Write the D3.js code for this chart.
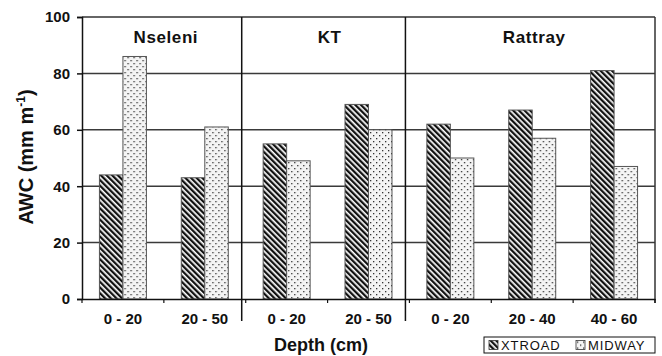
<!DOCTYPE html>
<html>
<head>
<meta charset="utf-8">
<script src="https://cdn.jsdelivr.net/npm/d3@7"></script>
<style>
  html, body { margin: 0; padding: 0; background: #fff; }
  svg { display: block; font-family: Arial, "Liberation Sans", Helvetica, sans-serif; }
</style>
</head>
<body>
<div id="chart"></div>
<script>
const sites = ["Nseleni", "KT", "Rattray"];
const siteDepths = [["0 - 20", "20 - 50"], ["0 - 20", "20 - 50"], ["0 - 20", "20 - 40", "40 - 60"]];
const series = ["XTROAD", "MIDWAY"];
const xtroad = [44, 43, 55, 69, 62, 67, 81];
const midway = [86, 61, 49, 60, 50, 57, 47];
const yTicks = [0, 20, 40, 60, 80, 100];

const W = 662, H = 356;
const margin = { top: 17, right: 7, bottom: 57, left: 82 };
const width = W - margin.left - margin.right;
const height = H - margin.top - margin.bottom;

// flatten site/depth into categories
const cats = [];
siteDepths.forEach((ds, si) => ds.forEach(d => cats.push({ key: si + "|" + d, site: si, depth: d })));
const data = cats.map((c, i) => ({ ...c, values: [xtroad[i], midway[i]] }));

const svg = d3.select("#chart").append("svg")
  .attr("width", W).attr("height", H);

const defs = svg.append("defs");
const stripes = defs.append("pattern")
  .attr("id", "stripes").attr("patternUnits", "userSpaceOnUse")
  .attr("width", 4).attr("height", 4)
  .attr("patternTransform", "rotate(-45)");
stripes.append("rect").attr("width", 4).attr("height", 4).attr("fill", "#fff");
stripes.append("rect").attr("width", 2.3).attr("height", 4).attr("fill", "#111");

const dots = defs.append("pattern")
  .attr("id", "dots").attr("patternUnits", "userSpaceOnUse")
  .attr("width", 6).attr("height", 6);
dots.append("rect").attr("width", 6).attr("height", 6).attr("fill", "#f4f4f4");
dots.append("rect").attr("x", 1).attr("y", 1).attr("width", 1.3).attr("height", 1.3).attr("fill", "#333");
dots.append("rect").attr("x", 4).attr("y", 4).attr("width", 1.3).attr("height", 1.3).attr("fill", "#333");

const fills = { XTROAD: "url(#stripes)", MIDWAY: "url(#dots)" };

const g = svg.append("g").attr("transform", `translate(${margin.left},${margin.top})`);

const x0 = d3.scaleBand()
  .domain(cats.map(c => c.key))
  .range([0, width])
  .paddingInner(0.426)
  .paddingOuter(0.213);

const x1 = d3.scaleBand()
  .domain(series)
  .range([0, x0.bandwidth()]);

const y = d3.scaleLinear().domain([0, 100]).range([height, 0]);

const boundary = i => i * x0.step();

// gridlines
g.append("g").selectAll("line")
  .data(yTicks.filter(t => t > 0 && t < 100))
  .join("line")
  .attr("x1", 0).attr("x2", width)
  .attr("y1", d => y(d)).attr("y2", d => y(d))
  .attr("stroke", "#3a3a3a").attr("stroke-width", 1.5);

// top and right borders
g.append("line").attr("x1", 0).attr("x2", width).attr("y1", y(100)).attr("y2", y(100))
  .attr("stroke", "#333").attr("stroke-width", 1.5);
g.append("line").attr("x1", width).attr("x2", width).attr("y1", y(100)).attr("y2", height + 4)
  .attr("stroke", "#333").attr("stroke-width", 1.5);

// bars
const bars = g.append("g").selectAll("g")
  .data(data)
  .join("g")
  .attr("transform", d => `translate(${x0(d.key)},0)`);

bars.selectAll("rect")
  .data(d => series.map((s, i) => ({ s, v: d.values[i] })))
  .join("rect")
  .attr("x", d => x1(d.s))
  .attr("y", d => y(d.v))
  .attr("width", x1.bandwidth())
  .attr("height", d => height - y(d.v))
  .attr("fill", d => fills[d.s])
  .attr("stroke", "#555")
  .attr("stroke-width", 1);

// site separators
const siteStart = [];
let acc = 0;
siteDepths.forEach(ds => { siteStart.push(acc); acc += ds.length; });
g.append("g").selectAll("line")
  .data(siteStart.slice(1))
  .join("line")
  .attr("x1", d => boundary(d) - 4).attr("x2", d => boundary(d) - 4)
  .attr("y1", y(100)).attr("y2", height + 22)
  .attr("stroke", "#111").attr("stroke-width", 1.5);

// site labels
g.append("g").selectAll("text")
  .data(sites)
  .join("text")
  .attr("x", (d, i) => (boundary(siteStart[i]) + boundary(siteStart[i] + siteDepths[i].length)) / 2 + 2)
  .attr("y", 26)
  .attr("text-anchor", "middle")
  .attr("font-size", 17)
  .attr("font-weight", "bold")
  .attr("letter-spacing", 0.6)
  .attr("fill", "#111")
  .text(d => d);

// y axis
const yAxis = g.append("g")
  .call(d3.axisLeft(y).tickValues(yTicks).tickSize(5).tickPadding(7));
yAxis.selectAll("text").attr("font-size", 15).attr("font-weight", "bold")
  .attr("font-family", "Arial, 'Liberation Sans', sans-serif").attr("fill", "#111");
yAxis.selectAll("path.domain, .tick line").attr("stroke", "#111").attr("stroke-width", 1.5);

// x axis
const xAxis = g.append("g")
  .attr("transform", `translate(0,${height})`)
  .call(d3.axisBottom(x0).tickSize(0).tickPadding(14).tickFormat(k => k.split("|")[1]));
xAxis.selectAll("text").attr("font-size", 15).attr("font-weight", "bold")
  .attr("font-family", "Arial, 'Liberation Sans', sans-serif").attr("fill", "#111");
xAxis.select("path.domain").attr("stroke", "#111").attr("stroke-width", 1.5);

g.append("g").selectAll("line")
  .data(d3.range(cats.length + 1))
  .join("line")
  .attr("x1", d => boundary(d)).attr("x2", d => boundary(d))
  .attr("y1", height).attr("y2", height + 4)
  .attr("stroke", "#111").attr("stroke-width", 1.2);

// axis titles
svg.append("text")
  .attr("transform", `translate(33,${margin.top + 140}) rotate(-90)`)
  .attr("text-anchor", "middle")
  .attr("font-size", 20)
  .attr("font-weight", "bold")
  .attr("fill", "#111")
  .call(t => {
    t.append("tspan").text("AWC (mm m");
    t.append("tspan").attr("font-size", 12).attr("dy", -8).text("-1");
    t.append("tspan").attr("dy", 8).text(")");
  });

svg.append("text")
  .attr("x", 321).attr("y", 351)
  .attr("text-anchor", "middle")
  .attr("font-size", 18)
  .attr("font-weight", "bold")
  .attr("fill", "#111")
  .text("Depth (cm)");

// legend
const legend = svg.append("g").attr("transform", "translate(484,337)");
legend.append("rect").attr("width", 171).attr("height", 16)
  .attr("fill", "#fff").attr("stroke", "#111").attr("stroke-width", 1);
const items = legend.selectAll("g.item")
  .data(series)
  .join("g")
  .attr("class", "item")
  .attr("transform", (d, i) => `translate(${5 + i * 87},3.5)`);
items.append("rect").attr("width", 9).attr("height", 9)
  .attr("fill", d => fills[d]).attr("stroke", "#333").attr("stroke-width", 0.8);
items.append("text")
  .attr("x", 12).attr("y", 9.5)
  .attr("font-size", 13)
  .attr("letter-spacing", 0.9)
  .attr("fill", "#111")
  .text(d => d);
</script>
</body>
</html>
